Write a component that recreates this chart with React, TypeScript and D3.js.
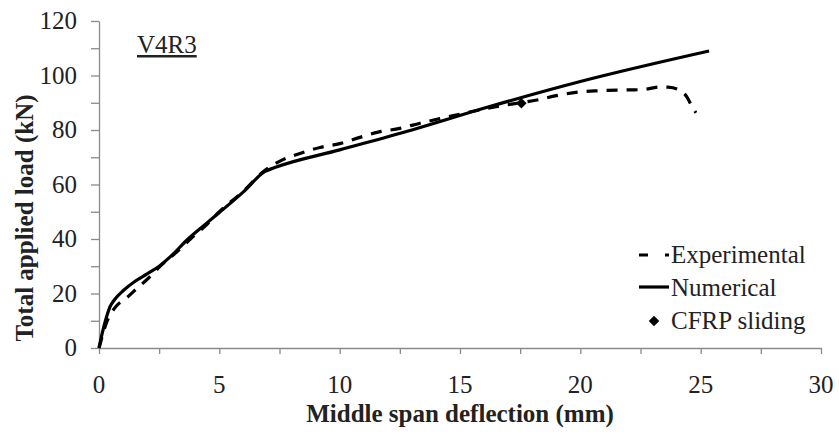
import React, { useEffect, useRef } from 'react';
import * as d3 from 'd3';

// deflection (mm), load (kN)
const numDeflection = [0, 0.15, 0.3, 0.45, 0.65, 1, 1.5, 2, 2.5, 3, 3.7, 4.5, 5, 6, 6.9, 7.3, 10, 13, 16.2, 20, 25.35];
const numLoad = [0, 6, 11, 15, 17.8, 21, 24.5, 27.2, 30, 33.8, 40, 46, 49.7, 57.3, 64.8, 66.2, 72.7, 80, 88.5, 97.8, 109];

const expDeflection = [0, 0.3, 0.73, 1.1, 1.43, 2.05, 2.6, 3.2, 3.8, 4.5, 5, 6, 6.8, 7.5, 8.35, 9.18, 10, 10.84, 11.6, 12.5, 13.34, 14.17, 15, 15.83, 16.66, 17.5, 18.2, 19, 20, 20.8, 21.8, 22.55, 23.3, 23.64, 24.1, 24.4, 24.65, 24.8];
const expLoad = [0, 9, 15.5, 18, 20.7, 25.6, 30.5, 35, 40, 45.5, 50, 57.5, 64.5, 68.5, 71.4, 73.6, 75, 77.3, 79.2, 80.6, 82.5, 84.2, 85.8, 87.4, 88.8, 90, 91, 92.6, 94, 94.4, 94.7, 94.8, 95.8, 95.7, 94.7, 92.5, 88.5, 86.3];

const slidingPoint = [17.55, 89.8];

const xTickLabels = [0, 5, 10, 15, 20, 25, 30];
const yTickLabels = [0, 20, 40, 60, 80, 100, 120];

const App = () => {
  const ref = useRef(null);

  useEffect(() => {
    const width = 839;
    const height = 436;
    const margin = { top: 21, right: 18, bottom: 88, left: 99 };
    const font = '"Liberation Serif", "Times New Roman", serif';

    d3.select(ref.current).selectAll('*').remove();

    const svg = d3.select(ref.current)
      .append('svg')
      .attr('width', width)
      .attr('height', height)
      .style('position', 'absolute')
      .style('left', 0)
      .style('top', 0)
      .style('background', '#fff');

    const x = d3.scaleLinear().domain([0, 30]).range([margin.left, width - margin.right]);
    const y = d3.scaleLinear().domain([0, 120]).range([height - margin.bottom, margin.top]);

    // X axis
    const xAxis = svg.append('g')
      .attr('transform', `translate(0,${y(0)})`)
      .call(d3.axisBottom(x).tickValues(d3.range(0, 30.01, 2.5)).tickSize(6).tickFormat(() => '').tickSizeOuter(0));
    xAxis.selectAll('line, path').attr('stroke', '#8a8a8a').attr('stroke-width', 1.3);

    svg.append('g')
      .selectAll('text')
      .data(xTickLabels)
      .enter()
      .append('text')
      .attr('x', d => x(d))
      .attr('y', 393)
      .attr('text-anchor', 'middle')
      .attr('font-family', font)
      .attr('font-size', 25)
      .attr('fill', '#222')
      .text(d => d);

    // Y axis
    const yAxis = svg.append('g')
      .attr('transform', `translate(${x(0)},0)`)
      .call(d3.axisLeft(y).tickValues(d3.range(0, 120.01, 10)).tickSize(8).tickFormat(() => '').tickSizeOuter(0));
    yAxis.selectAll('line, path').attr('stroke', '#8a8a8a').attr('stroke-width', 1.3);

    svg.append('g')
      .selectAll('text')
      .data(yTickLabels)
      .enter()
      .append('text')
      .attr('x', 77)
      .attr('y', d => y(d) + 8)
      .attr('text-anchor', 'end')
      .attr('font-family', font)
      .attr('font-size', 25)
      .attr('fill', '#222')
      .text(d => d);

    // Axis titles
    svg.append('text')
      .attr('x', 460)
      .attr('y', 422)
      .attr('text-anchor', 'middle')
      .attr('font-family', font)
      .attr('font-size', 25)
      .attr('font-weight', 'bold')
      .attr('fill', '#222')
      .text('Middle span deflection (mm)');

    svg.append('text')
      .attr('transform', 'translate(33,218) rotate(-90)')
      .attr('text-anchor', 'middle')
      .attr('font-family', font)
      .attr('font-size', 25)
      .attr('font-weight', 'bold')
      .attr('fill', '#222')
      .text('Total applied load (kN)');

    // Specimen label
    svg.append('text')
      .attr('x', 137)
      .attr('y', 53)
      .attr('font-family', font)
      .attr('font-size', 25)
      .attr('fill', '#222')
      .attr('text-decoration', 'underline')
      .text('V4R3');

    const line = d3.line().x(d => x(d[0])).y(d => y(d[1])).curve(d3.curveMonotoneX);

    const numData = numDeflection.map((d, i) => [d, numLoad[i]]);
    const expData = expDeflection.map((d, i) => [d, expLoad[i]]);

    svg.append('path')
      .datum(expData)
      .attr('fill', 'none')
      .attr('stroke', '#000')
      .attr('stroke-width', 3.2)
      .attr('stroke-dasharray', '11,9')
      .attr('d', line);

    svg.append('path')
      .datum(numData)
      .attr('fill', 'none')
      .attr('stroke', '#000')
      .attr('stroke-width', 3.2)
      .attr('d', line);

    const diamond = d3.symbol().type(d3.symbolDiamond2).size(70);

    svg.append('path')
      .attr('d', diamond())
      .attr('transform', `translate(${x(slidingPoint[0])},${y(slidingPoint[1])}) rotate(0)`)
      .attr('fill', '#000');

    // Legend
    const lg = svg.append('g').attr('font-family', font).attr('font-size', 25).attr('fill', '#222');
    lg.append('line')
      .attr('x1', 639).attr('x2', 669).attr('y1', 255).attr('y2', 255)
      .attr('stroke', '#000').attr('stroke-width', 3.2).attr('stroke-dasharray', '9,17');
    lg.append('text').attr('x', 671).attr('y', 263).text('Experimental');

    lg.append('line')
      .attr('x1', 639).attr('x2', 669).attr('y1', 287).attr('y2', 287)
      .attr('stroke', '#000').attr('stroke-width', 3.2);
    lg.append('text').attr('x', 671).attr('y', 296).text('Numerical');

    lg.append('path')
      .attr('d', diamond())
      .attr('transform', 'translate(654,321)')
      .attr('fill', '#000');
    lg.append('text').attr('x', 671).attr('y', 329).text('CFRP sliding');
  }, []);

  return <div ref={ref}></div>;
};

export default App;
